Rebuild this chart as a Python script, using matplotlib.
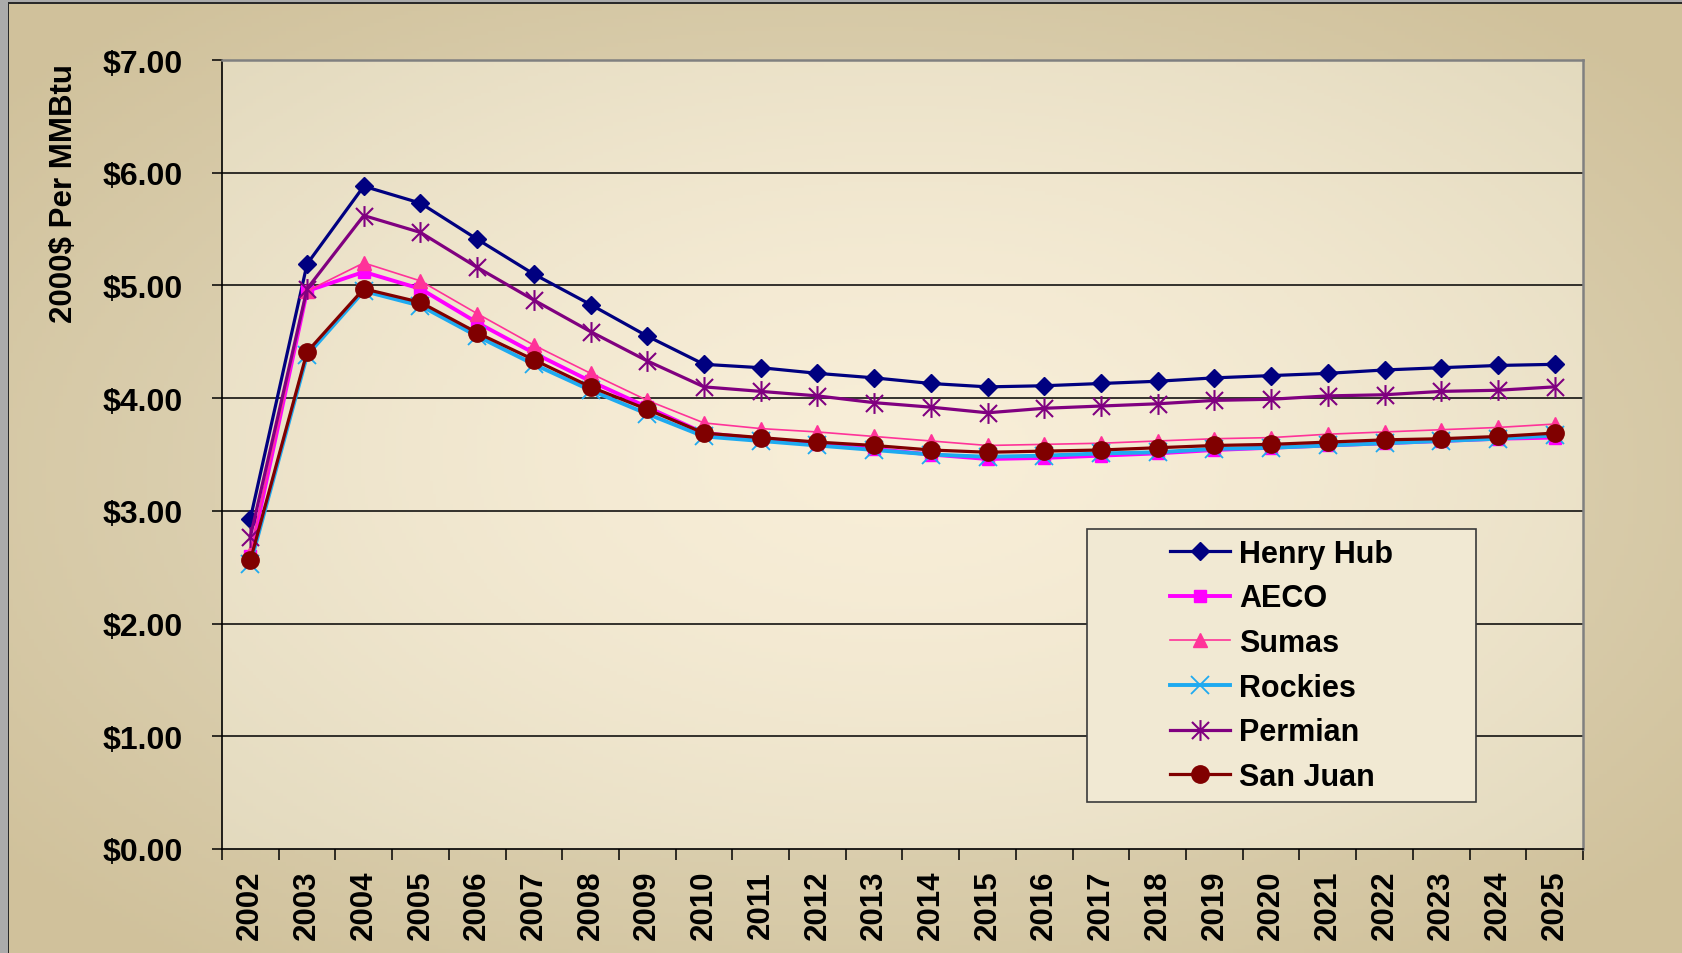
import numpy as np
import matplotlib
matplotlib.use("Agg")
import matplotlib.pyplot as plt
from matplotlib.path import Path
from matplotlib.patches import Rectangle

# data (2000$ per MMBtu)
years = [str(y) for y in range(2002, 2026)]

henry_hub = [2.93, 5.19, 5.88, 5.73, 5.41, 5.10, 4.83, 4.55, 4.30, 4.27, 4.22, 4.18,
             4.13, 4.10, 4.11, 4.13, 4.15, 4.18, 4.20, 4.22, 4.25, 4.27, 4.29, 4.30]
aeco = [2.60, 4.95, 5.12, 4.97, 4.67, 4.40, 4.15, 3.92, 3.69, 3.64, 3.59, 3.55,
        3.50, 3.46, 3.47, 3.49, 3.51, 3.54, 3.56, 3.58, 3.60, 3.62, 3.64, 3.65]
sumas = [2.63, 4.95, 5.20, 5.04, 4.75, 4.47, 4.22, 3.98, 3.78, 3.73, 3.70, 3.66,
         3.62, 3.58, 3.59, 3.60, 3.62, 3.64, 3.65, 3.68, 3.70, 3.72, 3.74, 3.77]
rockies = [2.53, 4.38, 4.95, 4.82, 4.55, 4.30, 4.07, 3.86, 3.66, 3.62, 3.58, 3.54,
           3.50, 3.48, 3.49, 3.51, 3.52, 3.55, 3.56, 3.58, 3.60, 3.62, 3.64, 3.67]
permian = [2.77, 4.97, 5.62, 5.47, 5.16, 4.87, 4.59, 4.33, 4.10, 4.06, 4.02, 3.96,
           3.92, 3.87, 3.91, 3.93, 3.95, 3.98, 3.99, 4.02, 4.03, 4.06, 4.07, 4.10]
san_juan = [2.56, 4.41, 4.97, 4.85, 4.58, 4.34, 4.10, 3.90, 3.69, 3.65, 3.61, 3.58,
            3.54, 3.52, 3.53, 3.54, 3.56, 3.58, 3.59, 3.61, 3.63, 3.64, 3.66, 3.69]

yticks = [0, 1, 2, 3, 4, 5, 6, 7]
ytick_labels = ["$%.2f" % v for v in yticks]

W, H = 1683, 954
fig = plt.figure(figsize=(W / 100, H / 100), dpi=100)

# outer chart area gradient
bg = fig.add_axes([0, 0, 1, 1], zorder=-10)
gx, gy = np.meshgrid(np.linspace(-1, 1, 400), np.linspace(-1, 1, 240))
r = np.clip(np.sqrt(gx ** 2 + gy ** 2) / 1.3, 0, 1)[..., None]
c_in = np.array([0xEA, 0xE2, 0xCA]) / 255
c_out = np.array([0xD0, 0xC1, 0x9B]) / 255
bg.imshow(c_in * (1 - r) + c_out * r, extent=[0, 1, 0, 1], aspect="auto")
bg.set_xlim(0, 1)
bg.set_ylim(0, 1)
bg.axis("off")

# grey window border on left/top
fig.patches.append(Rectangle((0, 0), 8 / W, 1, transform=fig.transFigure,
                             facecolor="#ABABAB", edgecolor="none"))
fig.patches.append(Rectangle((8 / W, 0), 1.5 / W, 1 - 3 / H, transform=fig.transFigure,
                             facecolor="#2A2A2A", edgecolor="none"))
fig.patches.append(Rectangle((0, 1 - 3 / H), 1, 3 / H, transform=fig.transFigure,
                             facecolor="#ABABAB", edgecolor="none"))
fig.patches.append(Rectangle((8 / W, 1 - 4.5 / H), 1, 1.5 / H, transform=fig.transFigure,
                             facecolor="#2A2A2A", edgecolor="none"))

left, right, top, bottom = 222, 1583, 61, 850
ax = fig.add_axes([left / W, 1 - bottom / H, (right - left) / W, (bottom - top) / H])
ax.set_facecolor("none")

# plot area gradient
px, py = np.meshgrid(np.linspace(-1, 1, 400), np.linspace(-1, 1, 240))
r2 = np.clip(np.sqrt(px ** 2 + py ** 2) / 1.45, 0, 1)[..., None] ** 1.5
p_in = np.array([0xF8, 0xEE, 0xD8]) / 255
p_out = np.array([0xE2, 0xD9, 0xBD]) / 255
ax.imshow(p_in * (1 - r2) + p_out * r2, extent=[0, 1, 0, 1], transform=ax.transAxes,
          aspect="auto", zorder=0)

x = np.arange(len(years))

for v in yticks[1:-1]:
    ax.axhline(v, color="black", lw=1.1, zorder=1)

# Excel style star: vertical bar plus an X
star = Path([(0, -1.1), (0, 1.1), (-0.9, -0.9), (0.9, 0.9), (-0.9, 0.9), (0.9, -0.9)],
            [Path.MOVETO, Path.LINETO] * 3)

ax.plot(x, henry_hub, color="#000080", lw=2.3, marker="D", ms=9.2, label="Henry Hub", zorder=3)
ax.plot(x, aeco, color="#FF00FF", lw=2.8, marker="s", ms=8.5, label="AECO", zorder=3)
ax.plot(x, sumas, color="#FF3399", lw=1.2, marker="^", ms=10, label="Sumas", zorder=3)
ax.plot(x, rockies, color="#1EAAF0", lw=2.8, marker="x", ms=13, mew=1.3, label="Rockies", zorder=3)
ax.plot(x, permian, color="#800080", lw=2.3, marker=star, ms=15, mew=1.5, label="Permian", zorder=3)
ax.plot(x, san_juan, color="#800000", lw=2.3, marker="o", ms=12.5, label="San Juan", zorder=3)

ax.set_xlim(-0.5, len(years) - 0.5)
ax.set_ylim(0, 7)

for s in ["left", "bottom"]:
    ax.spines[s].set_color("black")
    ax.spines[s].set_linewidth(1.2)
for s in ["right", "top"]:
    ax.spines[s].set_color("#808080")
    ax.spines[s].set_linewidth(1.8)

ax.set_yticks(yticks)
ax.set_yticklabels(ytick_labels, fontsize=23, fontweight="bold", family="Liberation Sans")
ax.tick_params(axis="y", direction="out", length=7, width=1.1, pad=21)

ax.set_xticks(x)
ax.set_xticklabels(years, rotation=90, fontsize=22.5, fontweight="bold", family="Liberation Sans")
ax.set_xticks(np.arange(len(years) + 1) - 0.5, minor=True)
ax.tick_params(axis="x", which="major", length=0, pad=15)
ax.tick_params(axis="x", which="minor", direction="out", length=8, width=1.1)

fig.text(64 / W, 1 - 194 / H, "2000$ Per MMBtu", rotation=90, ha="center", va="center",
         fontsize=22.5, fontweight="bold", family="Liberation Sans")

# legend box
lx0, lx1, ly0, ly1 = 1087, 1476, 530, 803
ax.add_patch(Rectangle(((lx0 - left) / (right - left), (bottom - ly1) / (bottom - top)),
                       (lx1 - lx0) / (right - left), (ly1 - ly0) / (bottom - top),
                       transform=ax.transAxes, facecolor="#F1E9D3", edgecolor="#3A3A3A",
                       lw=1.2, zorder=5))
leg = ax.legend(loc="center", frameon=False,
                prop={"weight": "bold", "family": "Liberation Sans", "size": 22},
                bbox_to_anchor=(((lx0 + lx1) / 2 - left) / (right - left),
                                (bottom - (ly0 + ly1) / 2) / (bottom - top)),
                handlelength=1.95, handletextpad=0.3, labelspacing=0.48)
leg.set_zorder(6)

fig.savefig("out.png", dpi=100)
